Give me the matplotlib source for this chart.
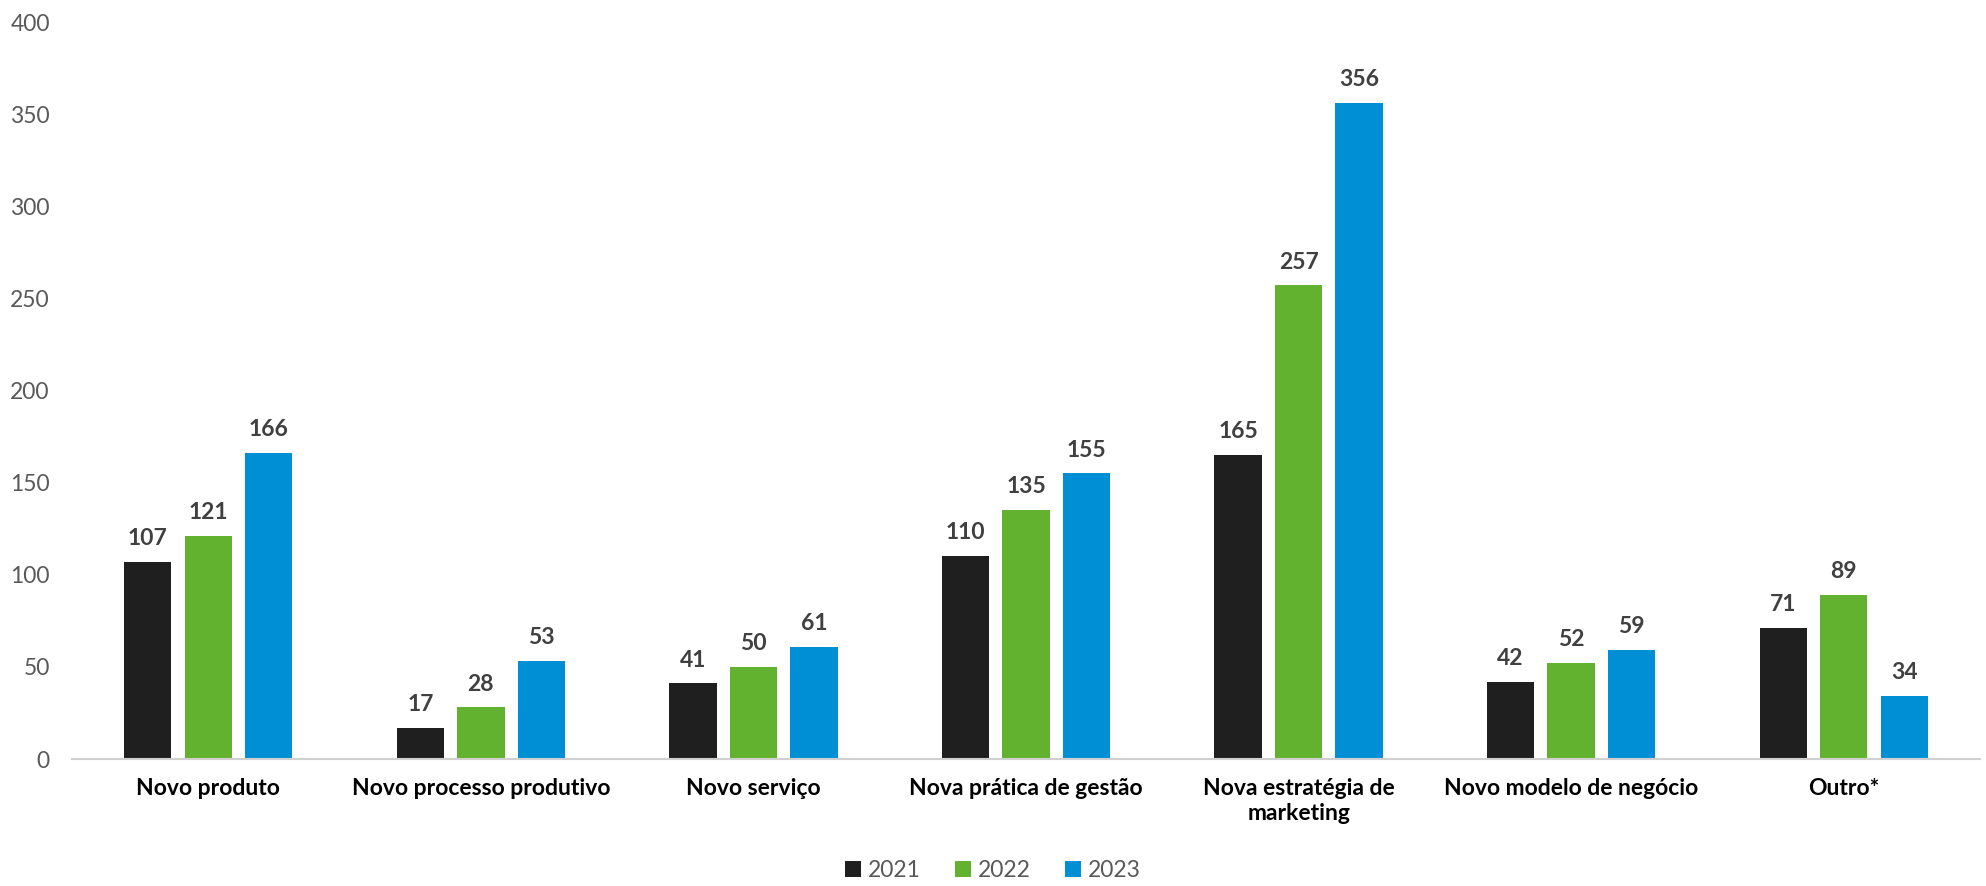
import numpy as np
import matplotlib.pyplot as plt

categories = ["Novo produto", "Novo processo produtivo", "Novo serviço",
              "Nova prática de gestão", "Nova estratégia de\nmarketing",
              "Novo modelo de negócio", "Outro*"]
years = ["2021", "2022", "2023"]
v2021 = [107, 17, 41, 110, 165, 42, 71]
v2022 = [121, 28, 50, 135, 257, 52, 89]
v2023 = [166, 53, 61, 155, 356, 59, 34]
colors = ["#1f1f1f", "#62b22f", "#008fd5"]

plt.rcParams['font.family'] = ['Lato', 'DejaVu Sans']

fig = plt.figure(figsize=(19.86, 8.86), dpi=100)
ax = fig.add_axes([72 / 1986, 1 - 759 / 886, (1980 - 72) / 1986, (759 - 22) / 886])

x = np.arange(len(categories))
width = 0.1735
step = 0.222
for i, (vals, yr, c) in enumerate(zip([v2021, v2022, v2023], years, colors)):
    bars = ax.bar(x + (i - 1) * step, vals, width, color=c, label=yr)
    for b, v in zip(bars, vals):
        ax.text(b.get_x() + b.get_width() / 2, v + 7, str(v), ha='center', va='bottom',
                fontsize=16.5, fontweight='bold', color='#404040')

ax.set_xlim(-0.5, len(categories) - 0.5)
ax.set_ylim(0, 400)
ax.set_yticks(range(0, 401, 50))
ax.set_xticks(x)
ax.set_xticklabels(categories, fontsize=16.5, fontweight='bold', color='black')
ax.tick_params(axis='y', labelsize=16.5, labelcolor='#595959', length=0, pad=16)
ax.tick_params(axis='x', length=0, pad=14)
for s in ['top', 'right', 'left']:
    ax.spines[s].set_visible(False)
ax.spines['bottom'].set_color('#d0d0d0')
ax.spines['bottom'].set_linewidth(1.5)

fig.legend(loc='lower center', bbox_to_anchor=(0.5, -0.018), ncol=3, frameon=False,
           fontsize=16.5, handlelength=0.7, handleheight=0.7, handletextpad=0.3,
           columnspacing=1.5, labelcolor='#595959')

fig.savefig("out.png", dpi=100)
